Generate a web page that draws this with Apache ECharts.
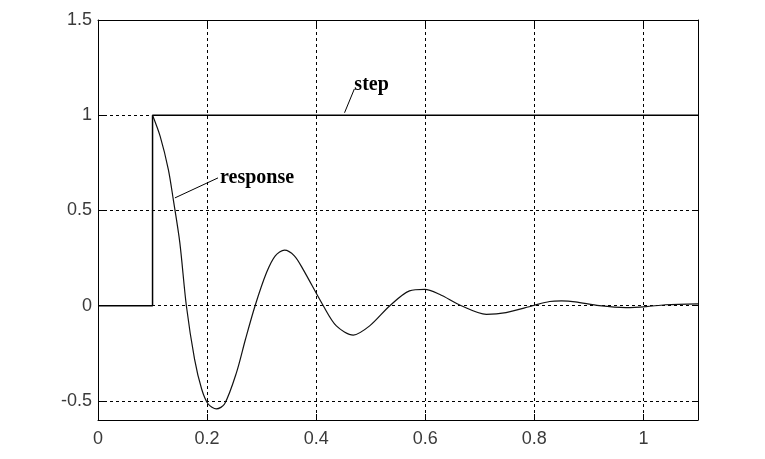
<!DOCTYPE html>
<html>
<head>
    <meta charset="utf-8">
    <title>step response</title>
    <style>
        html, body { margin: 0; padding: 0; background-color: #fff; }
        #charts { width: 765px; height: 459px; }
    </style>
</head>
<body>
  <div id="charts"></div>
</body>
<script type="text/javascript" src="https://cdn.jsdelivr.net/npm/echarts@6/dist/echarts.min.js"></script>
<script type="text/javascript">

// tick labels
var xTicks = [0, 0.2, 0.4, 0.6, 0.8, 1];
var yTicks = [-0.5, 0, 0.5, 1, 1.5];

// unit step at t = 0.1
var stepData = [[0, 0], [0.1, 0], [0.1, 1], [1.1, 1]];

// response
var responseData = [
  [0.1, 1], [0.114, 0.889], [0.129, 0.715], [0.138, 0.558], [0.150, 0.331],
  [0.162, 0], [0.177, -0.28], [0.190, -0.437], [0.202, -0.516], [0.217, -0.542],
  [0.232, -0.516], [0.254, -0.35], [0.270, -0.18], [0.288, 0], [0.309, 0.174],
  [0.325, 0.262], [0.342, 0.292], [0.360, 0.262], [0.376, 0.191], [0.413, 0],
  [0.437, -0.106], [0.468, -0.154], [0.498, -0.106], [0.535, 0], [0.571, 0.078],
  [0.599, 0.086], [0.626, 0.06], [0.666, 0], [0.712, -0.045], [0.748, -0.036],
  [0.797, 0], [0.828, 0.022], [0.850, 0.025], [0.875, 0.02], [0.919, 0],
  [0.968, -0.01], [1.005, -0.005], [1.040, 0.005], [1.1, 0.01]
];

// annotation leader lines
var stepLeader = [[0.452, 1.013], [0.470, 1.138]];
var responseLeader = [[0.141, 0.566], [0.220, 0.671]];

var myChart = echarts.init(document.getElementById('charts'));

var gridLine = { show: true, lineStyle: { color: '#000', type: [3, 3], width: 1 } };
var boxLine = { show: true, onZero: false, lineStyle: { color: '#000', width: 1 } };

function xAxisOf(pos, labels) {
  return {
    type: 'value', position: pos, min: 0, max: 1.1,
    axisLine: boxLine,
    axisTick: { show: true, inside: true, length: 6, customValues: xTicks, lineStyle: { color: '#000' } },
    axisLabel: { show: labels, customValues: xTicks, margin: 10, color: '#3a3a3a',
                 fontFamily: 'Liberation Sans', fontSize: 18 },
    splitLine: labels ? gridLine : { show: false }
  };
}
function yAxisOf(pos, labels) {
  return {
    type: 'value', position: pos, min: -0.6, max: 1.5,
    axisLine: boxLine,
    axisTick: { show: true, inside: true, length: 6, customValues: yTicks, lineStyle: { color: '#000' } },
    axisLabel: { show: labels, customValues: yTicks, margin: 6, color: '#3a3a3a',
                 fontFamily: 'Liberation Sans', fontSize: 18 },
    splitLine: labels ? gridLine : { show: false }
  };
}

var annLabel = { show: true, color: '#000', fontFamily: 'Liberation Serif', fontSize: 20,
                 fontWeight: 'bold', distance: 2 };

var option = {
  animation: false,
  grid: { left: 98, right: 67, top: 20, bottom: 39 },
  xAxis: [xAxisOf('bottom', true), xAxisOf('top', false)],
  yAxis: [yAxisOf('left', true), yAxisOf('right', false)],
  series: [
    {
      name: 'step', type: 'line', data: stepData, showSymbol: false,
      lineStyle: { color: '#000', width: 1.5 }, z: 3
    },
    {
      name: 'response', type: 'line', data: responseData, showSymbol: false, smooth: 0.3,
      lineStyle: { color: '#111', width: 1.2 }, z: 4
    },
    {
      type: 'line', data: stepLeader, showSymbol: false,
      lineStyle: { color: '#000', width: 1 },
      endLabel: Object.assign({ formatter: 'step', offset: [-2, -4] }, annLabel)
    },
    {
      type: 'line', data: responseLeader, showSymbol: false,
      lineStyle: { color: '#000', width: 1 },
      endLabel: Object.assign({ formatter: 'response' }, annLabel)
    }
  ]
};

myChart.setOption(option);
</script>
</html>
